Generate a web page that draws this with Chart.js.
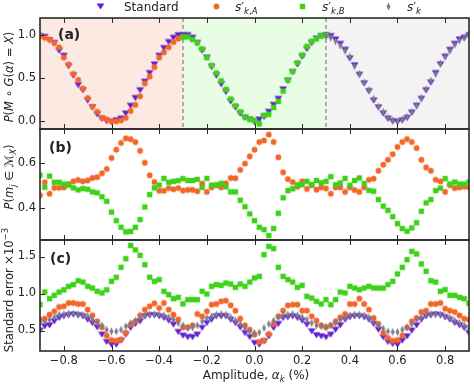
<!DOCTYPE html>
<html>
<head>
<meta charset="utf-8">
<script src="https://cdn.jsdelivr.net/npm/chart.js@4/dist/chart.umd.min.js"></script>
<style>
  html, body { margin: 0; padding: 0; background: #fff; }
  #wrap { position: relative; width: 474px; height: 384px; overflow: hidden; font-family: "DejaVu Sans", sans-serif; color: #222; }
  #wrap canvas.chart { position: absolute; left: 0; top: 0; }
  .txt { position: absolute; white-space: nowrap; font-size: 12px; line-height: 14px; }
  .ylab { position: absolute; white-space: nowrap; font-size: 11.5px; line-height: 13px; transform: translate(-50%, -50%) rotate(-90deg); }
  .panel { position: absolute; font-size: 14px; font-weight: bold; line-height: 17px; }
  sub { font-size: 8.5px; vertical-align: -3px; line-height: 0; }
  sup { font-size: 8.5px; vertical-align: 5px; line-height: 0; }
  .mk { position: absolute; }
</style>
</head>
<body>
<div id="wrap">
  <canvas id="chartA" class="chart" width="474" height="384"></canvas>
  <canvas id="chartB" class="chart" width="474" height="384"></canvas>
  <canvas id="chartC" class="chart" width="474" height="384"></canvas>

  <div class="txt" style="left:124px; top:0px;">Standard</div>
  <div class="txt" style="left:235px; top:0px;"><i>s</i>′<sub><i>k</i>,<i>A</i></sub></div>
  <div class="txt" style="left:322px; top:0px;"><i>s</i>′<sub><i>k</i>,<i>B</i></sub></div>
  <div class="txt" style="left:407px; top:0px;"><i>s</i>′<sub><i>k</i></sub></div>

  <div class="panel" style="left:58px; top:26px;">(a)</div>
  <div class="panel" style="left:49px; top:139px;">(b)</div>
  <div class="panel" style="left:50px; top:250px;">(c)</div>

  <div class="ylab" style="left:9px; top:77px;"><i>P</i>(<i>M</i> ∘ <i>G</i>(<i>α</i>) = <i>X</i>)</div>
  <div class="ylab" style="left:9px; top:177px;"><i>P</i>(<i>m</i><sub><i>j</i></sub> ∈ <i>ℳ</i><sub><i>X</i></sub>)</div>
  <div class="ylab" style="left:9px; top:290px;">Standard error ×10<sup>−3</sup></div>

  <div class="txt" style="left:256px; top:368px; transform:translateX(-50%);">Amplitude, <i>α</i><sub><i>k</i></sub> (%)</div>
</div>
<script>
// amplitude axis (%), one point every 0.02
const amplitude = [-0.90,-0.88,-0.86,-0.84,-0.82,-0.80,-0.78,-0.76,-0.74,-0.72,-0.70,-0.68,-0.66,-0.64,-0.62,-0.60,-0.58,-0.56,-0.54,-0.52,-0.50,-0.48,-0.46,-0.44,-0.42,-0.40,-0.38,-0.36,-0.34,-0.32,-0.30,-0.28,-0.26,-0.24,-0.22,-0.20,-0.18,-0.16,-0.14,-0.12,-0.10,-0.08,-0.06,-0.04,-0.02,0.00,0.02,0.04,0.06,0.08,0.10,0.12,0.14,0.16,0.18,0.20,0.22,0.24,0.26,0.28,0.30,0.32,0.34,0.36,0.38,0.40,0.42,0.44,0.46,0.48,0.50,0.52,0.54,0.56,0.58,0.60,0.62,0.64,0.66,0.68,0.70,0.72,0.74,0.76,0.78,0.80,0.82,0.84,0.86,0.88,0.90];

// panel (a): P(M o G(alpha) = X)
const standardA = [0.99,0.98,0.94,0.91,0.82,0.76,0.64,0.53,0.42,0.36,0.24,0.16,0.08,0.03,0.00,-0.01,0.01,0.03,0.09,0.18,0.27,0.36,0.46,0.56,0.66,0.76,0.85,0.92,0.97,1.00,
  1.00,1.00,0.97,0.91,0.82,0.74,0.63,0.53,0.43,0.34,0.23,0.16,0.09,0.04,0.02,-0.01,0.02,0.05,0.11,0.19,0.26,0.37,0.47,0.57,0.66,0.75,0.84,0.91,0.96,0.99,
  1.00,0.99,0.95,0.90,0.83,0.73,0.65,0.54,0.44,0.35,0.24,0.16,0.09,0.03,0.00,-0.01,0.01,0.04,0.10,0.18,0.26,0.36,0.45,0.56,0.66,0.75,0.83,0.90,0.95,0.97,1.00];
const skA_a = [0.99,0.97,0.95,0.91,0.86,0.74,0.66,0.55,0.48,0.38,0.27,0.17,0.11,0.04,0.02,0.00,0.00,0.01,0.04,0.12,0.19,0.29,0.44,0.52,0.63,0.74,0.80,0.86,0.92,0.96,0.98];
const skB_a = [0.98,0.98,0.95,0.91,0.84,0.74,0.65,0.56,0.47,0.37,0.26,0.18,0.11,0.05,0.02,0.01,-0.03,0.07,0.08,0.16,0.23,0.35,0.48,0.58,0.68,0.77,0.87,0.93,0.96,0.99,1.00];
const sk_a = [0.99,0.97,0.93,0.88,0.82,0.75,0.64,0.55,0.45,0.36,0.26,0.17,0.11,0.04,0.01,0.00,0.02,0.05,0.11,0.18,0.27,0.37,0.47,0.55,0.67,0.75,0.82,0.89,0.94,0.97,1.00];
const regionEdges = [-0.9, -0.3, 0.3, 0.9];

// panel (b): P(m_j in M_X)
const skA_b = [0.455,0.513,0.462,0.488,0.488,0.490,0.505,0.517,0.523,0.517,
  0.521,0.532,0.536,0.553,0.572,0.621,0.658,0.688,0.708,0.705,
  0.692,0.653,0.600,0.544,0.514,0.475,0.475,0.487,0.482,0.487,
  0.476,0.479,0.479,0.473,0.507,0.470,0.490,0.500,0.490,0.508,
  0.532,0.531,0.568,0.596,0.628,0.658,0.692,0.699,0.725,0.692,
  0.624,0.557,0.527,0.514,0.493,0.517,0.483,0.500,0.480,0.490,
  0.485,0.462,0.490,0.490,0.470,0.490,0.478,0.470,0.490,0.524,
  0.529,0.564,0.591,0.613,0.638,0.670,0.692,0.705,0.692,0.665,
  0.613,0.579,0.564,0.524,0.517,0.470,0.500,0.487,0.490,0.493,0.490];
const skB_b = [0.545,0.491,0.540,0.513,0.513,0.505,0.500,0.488,0.479,0.485,
  0.482,0.470,0.466,0.448,0.428,0.380,0.342,0.313,0.292,0.294,
  0.313,0.347,0.403,0.458,0.488,0.500,0.530,0.513,0.517,0.520,
  0.529,0.521,0.521,0.526,0.490,0.530,0.500,0.500,0.508,0.493,
  0.470,0.470,0.433,0.404,0.372,0.342,0.313,0.302,0.276,0.307,
  0.375,0.444,0.476,0.484,0.502,0.502,0.517,0.502,0.521,0.511,
  0.517,0.538,0.502,0.510,0.530,0.500,0.521,0.532,0.507,0.477,
  0.473,0.436,0.407,0.388,0.360,0.329,0.307,0.295,0.310,0.333,
  0.384,0.421,0.436,0.476,0.487,0.529,0.505,0.514,0.505,0.505,0.514];

// panel (c): standard error x 1e-3
const standardC = [0.498,0.556,0.570,0.624,0.669,0.691,0.705,0.714,0.705,0.691,
  0.646,0.601,0.543,0.444,0.345,0.309,0.309,0.363,0.444,0.534,
  0.588,0.624,0.691,0.705,0.705,0.691,0.669,0.633,0.580,0.480,
  0.430,0.410,0.410,0.444,0.534,0.601,0.646,0.691,0.691,0.691,
  0.646,0.601,0.543,0.466,0.412,0.331,0.309,0.354,0.421,0.534,
  0.588,0.669,0.678,0.691,0.669,0.633,0.579,0.489,0.435,0.421,
  0.408,0.444,0.511,0.570,0.646,0.678,0.691,0.691,0.678,0.646,
  0.588,0.511,0.408,0.345,0.318,0.309,0.363,0.421,0.498,0.570,
  0.646,0.691,0.705,0.714,0.705,0.678,0.646,0.601,0.570,0.534,0.466];
const skA_c = [0.646,0.660,0.714,0.760,0.818,0.827,0.872,0.872,0.858,0.858,
  0.782,0.705,0.624,0.543,0.430,0.370,0.360,0.380,0.470,0.579,
  0.624,0.705,0.782,0.827,0.867,0.804,0.872,0.782,0.714,0.650,
  0.543,0.543,0.570,0.723,0.691,0.759,0.849,0.858,0.894,0.903,
  0.840,0.768,0.660,0.570,0.511,0.444,0.345,0.363,0.453,0.588,
  0.691,0.768,0.840,0.849,0.849,0.768,0.768,0.691,0.633,0.570,
  0.543,0.570,0.624,0.678,0.723,0.858,0.858,0.930,0.858,0.782,
  0.669,0.588,0.466,0.400,0.360,0.370,0.430,0.543,0.624,0.669,
  0.750,0.768,0.858,0.858,0.872,0.795,0.768,0.750,0.705,0.660,0.646];
const skB_c = [0.850,1.020,0.930,0.975,1.020,1.050,1.097,1.120,1.173,1.155,
  1.097,1.074,1.030,1.007,1.050,1.164,1.220,1.354,1.470,1.650,
  1.590,1.516,1.390,1.220,1.164,1.187,1.030,0.984,0.930,0.948,
  0.860,0.917,0.917,0.917,1.030,0.993,1.097,1.120,1.110,1.142,
  1.128,1.083,1.128,1.097,1.155,1.210,1.232,1.525,1.637,1.606,
  1.354,1.232,1.187,1.155,1.083,1.110,0.962,0.939,0.894,0.858,
  0.917,0.849,0.917,1.020,1.007,1.097,1.074,1.052,1.074,1.097,
  1.074,1.074,1.074,1.120,1.164,1.264,1.354,1.457,1.570,1.534,
  1.399,1.300,1.173,1.155,1.030,1.052,0.975,0.975,0.948,0.930,0.867];
const sk_c = [0.601,0.624,0.646,0.678,0.714,0.720,0.730,0.730,0.720,0.710,
  0.691,0.646,0.601,0.570,0.511,0.489,0.489,0.511,0.556,0.601,
  0.633,0.669,0.705,0.720,0.720,0.714,0.705,0.678,0.646,0.601,
  0.570,0.534,0.543,0.570,0.624,0.669,0.691,0.714,0.723,0.714,
  0.678,0.633,0.588,0.534,0.489,0.466,0.475,0.534,0.588,0.633,
  0.678,0.705,0.714,0.723,0.705,0.678,0.646,0.601,0.570,0.556,
  0.550,0.570,0.601,0.646,0.678,0.705,0.714,0.714,0.705,0.678,
  0.624,0.570,0.525,0.489,0.480,0.480,0.511,0.543,0.588,0.646,
  0.678,0.714,0.723,0.723,0.714,0.691,0.669,0.633,0.601,0.570,0.534];

// tick values
const xTicks = [-0.8, -0.6, -0.4, -0.2, 0.0, 0.2, 0.4, 0.6, 0.8];
const yTicksA = [0.0, 0.5, 1.0];
const yTicksB = [0.4, 0.6];
const yTicksC = [0.5, 1.0, 1.5];

const colors = { standard: '#6420cf', skA: '#f2662a', skB: '#3fd11a', sk: '#7b7b8a' };
const textColor = '#222';

function marker(shape, color) {
    const c = document.createElement('canvas');
    c.width = 9; c.height = 9;
    const g = c.getContext('2d');
    g.fillStyle = color;
    g.beginPath();
    if (shape === 'tri') { g.moveTo(0.6, 1.6); g.lineTo(8.4, 1.6); g.lineTo(4.5, 7.6); }
    else if (shape === 'circ') { g.arc(4.5, 4.5, 2.9, 0, Math.PI * 2); }
    else if (shape === 'sq') { g.rect(1.8, 1.8, 5.4, 5.4); }
    else { g.moveTo(4.5, 0.6); g.lineTo(6.4, 4.5); g.lineTo(4.5, 8.4); g.lineTo(2.6, 4.5); }
    g.closePath();
    g.fill();
    return c;
}

const markers = {
    standard: marker('tri', colors.standard),
    skA: marker('circ', colors.skA),
    skB: marker('sq', colors.skB),
    sk: marker('dia', colors.sk)
};

// html legend markers
[['tri', colors.standard, 100], ['circ', colors.skA, 216], ['sq', colors.skB, 302], ['dia', colors.sk, 388]].forEach(([s, c, x]) => {
    const m = marker(s, c);
    m.className = 'mk';
    m.style.left = (x - 4.5) + 'px';
    m.style.top = '2px';
    document.getElementById('wrap').appendChild(m);
});

function points(xs, ys) {
    return ys.map((y, i) => ({ x: xs[i], y }));
}

function series(label, xs, ys, key) {
    return {
        label,
        data: points(xs, ys),
        pointStyle: markers[key],
        pointRadius: 4,
        showLine: false
    };
}

const frame = {
    id: 'frame',
    afterDraw(chart) {
        const { ctx, chartArea: a, scales } = chart;
        ctx.save();
        ctx.strokeStyle = '#2a2a2a';
        ctx.lineWidth = 1;
        ctx.beginPath();
        scales.x.ticks.forEach(t => {
            const px = Math.round(scales.x.getPixelForValue(t.value)) + 0.5;
            ctx.moveTo(px, a.bottom); ctx.lineTo(px, a.bottom - 5);
            ctx.moveTo(px, a.top); ctx.lineTo(px, a.top + 5);
        });
        scales.y.ticks.forEach(t => {
            const py = Math.round(scales.y.getPixelForValue(t.value)) + 0.5;
            ctx.moveTo(a.left, py); ctx.lineTo(a.left + 5, py);
        });
        ctx.stroke();
        ctx.lineWidth = 1.6;
        ctx.strokeRect(a.left, a.top, a.right - a.left, a.bottom - a.top);
        ctx.restore();
    }
};

const shade = {
    id: 'shade',
    beforeDatasetsDraw(chart) {
        const { ctx, chartArea: a, scales: { x } } = chart;
        const fills = ['rgb(252, 234, 226)', 'rgb(233, 252, 228)', 'rgb(243, 243, 244)'];
        ctx.save();
        for (let k = 0; k < fills.length; k++) {
            const x0 = x.getPixelForValue(regionEdges[k]);
            const x1 = x.getPixelForValue(regionEdges[k + 1]);
            ctx.fillStyle = fills[k];
            ctx.fillRect(x0, a.top, x1 - x0, a.bottom - a.top);
        }
        ctx.strokeStyle = '#808080';
        ctx.lineWidth = 1.2;
        ctx.setLineDash([4, 3]);
        ctx.beginPath();
        [regionEdges[1], regionEdges[2]].forEach(v => {
            const px = x.getPixelForValue(v);
            ctx.moveTo(px, a.top); ctx.lineTo(px, a.bottom);
        });
        ctx.stroke();
        ctx.restore();
    }
};

function makeChart(id, datasets, opts) {
    const fmt = v => v.toFixed(1).replace('-', '\u2212');
    return new Chart(document.getElementById(id), {
        type: 'scatter',
        data: { datasets },
        options: {
            responsive: false,
            devicePixelRatio: 1,
            animation: false,
            events: [],
            layout: { padding: { left: 10, right: 2, top: opts.top, bottom: opts.bottom } },
            plugins: { legend: { display: false }, tooltip: { enabled: false } },
            scales: {
                x: {
                    type: 'linear',
                    min: -0.9,
                    max: 0.9,
                    grid: { display: false, drawTicks: false },
                    border: { display: false },
                    afterBuildTicks: s => { s.ticks = xTicks.map(v => ({ value: v })); },
                    afterFit: s => { s.height = opts.xHeight; },
                    ticks: {
                        display: opts.xLabels,
                        padding: 3,
                        color: textColor,
                        font: { family: 'DejaVu Sans', size: 11.5 },
                        maxRotation: 0,
                        autoSkip: false,
                        callback: fmt
                    }
                },
                y: {
                    min: opts.ymin,
                    max: opts.ymax,
                    grid: { display: false, drawTicks: false },
                    border: { display: false },
                    afterBuildTicks: s => { s.ticks = opts.yTicks.map(v => ({ value: v })); },
                    afterFit: s => { s.width = 30; },
                    ticks: {
                        padding: 4,
                        color: textColor,
                        font: { family: 'DejaVu Sans', size: 11.5 },
                        callback: fmt
                    }
                }
            }
        },
        plugins: opts.plugins
    });
}

makeChart('chartA', [
    series('s\u2032k', amplitude.slice(60), sk_a, 'sk'),
    series('s\u2032k,B', amplitude.slice(30, 61), skB_a, 'skB'),
    series('s\u2032k,A', amplitude.slice(0, 31), skA_a, 'skA'),
    series('Standard', amplitude, standardA, 'standard')
], { top: 18, bottom: 255, xHeight: 0, xLabels: false, ymin: -0.09, ymax: 1.2, yTicks: yTicksA, plugins: [shade, frame] });

makeChart('chartB', [
    series('s\u2032k,B', amplitude, skB_b, 'skB'),
    series('s\u2032k,A', amplitude, skA_b, 'skA')
], { top: 129, bottom: 144, xHeight: 0, xLabels: false, ymin: 0.256, ymax: 0.75, yTicks: yTicksB, plugins: [frame] });

makeChart('chartC', [
    series('s\u2032k', amplitude, sk_c, 'sk'),
    series('s\u2032k,A', amplitude, skA_c, 'skA'),
    series('s\u2032k,B', amplitude, skB_c, 'skB'),
    series('Standard', amplitude, standardC, 'standard')
], { top: 240, bottom: 3, xHeight: 30, xLabels: true, ymin: 0.223, ymax: 1.723, yTicks: yTicksC, plugins: [frame] });
</script>
</body>
</html>
